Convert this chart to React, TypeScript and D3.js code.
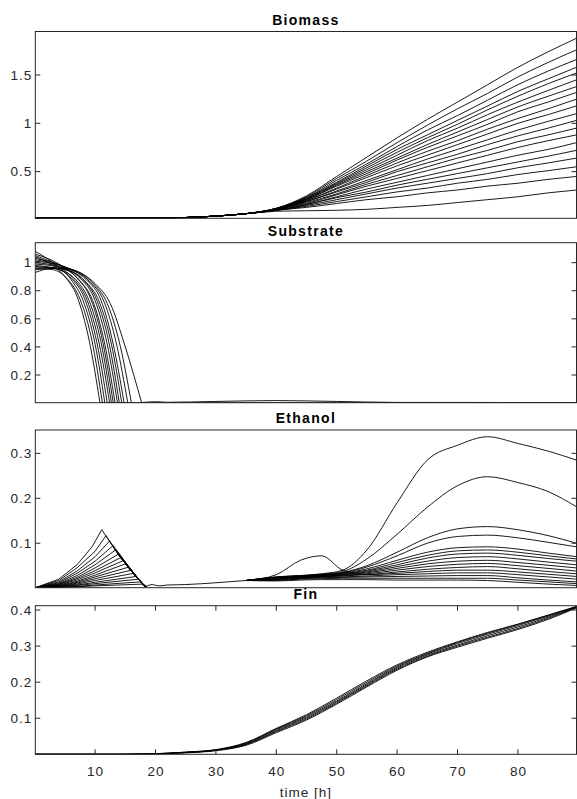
import { useEffect, useRef } from 'react'
import * as d3 from 'd3'

const W = 577
const H = 799
const X0 = 35.3
const X1 = 576.5
const FONT = "'Liberation Sans', Arial, Helvetica, sans-serif"
const AX = '#262626'

// time axis
const T_DOMAIN = [0.1, 89.7]
const X_TICKS = [10, 20, 30, 40, 50, 60, 70, 80]

// ---- Biomass ----
const BIOMASS_T = [0.1, 20, 25, 30, 35, 40, 45, 50, 55, 60, 65, 70, 75, 80, 85, 89.7]
const BIOMASS_EARLY = [0.018, 0.02, 0.025, 0.04, 0.065]
const BIOMASS_LATE = [
  [0.12, 0.25, 0.45, 0.65, 0.85, 1.04, 1.22, 1.40, 1.58, 1.74, 1.88],
  [0.12, 0.24, 0.43, 0.61, 0.80, 0.98, 1.15, 1.31, 1.48, 1.63, 1.76],
  [0.12, 0.23, 0.41, 0.58, 0.76, 0.93, 1.08, 1.24, 1.40, 1.54, 1.66],
  [0.12, 0.23, 0.39, 0.56, 0.73, 0.88, 1.03, 1.18, 1.33, 1.46, 1.58],
  [0.11, 0.22, 0.38, 0.54, 0.70, 0.85, 0.99, 1.14, 1.28, 1.41, 1.52],
  [0.11, 0.22, 0.37, 0.52, 0.67, 0.82, 0.95, 1.09, 1.22, 1.34, 1.45],
  [0.11, 0.21, 0.36, 0.50, 0.64, 0.78, 0.91, 1.04, 1.17, 1.28, 1.38],
  [0.11, 0.21, 0.35, 0.48, 0.62, 0.75, 0.87, 0.99, 1.12, 1.22, 1.32],
  [0.11, 0.20, 0.33, 0.46, 0.59, 0.71, 0.82, 0.94, 1.05, 1.15, 1.25],
  [0.11, 0.20, 0.32, 0.44, 0.56, 0.67, 0.78, 0.89, 1.00, 1.09, 1.18],
  [0.11, 0.19, 0.30, 0.41, 0.52, 0.63, 0.73, 0.83, 0.93, 1.02, 1.10],
  [0.11, 0.19, 0.29, 0.39, 0.50, 0.59, 0.68, 0.78, 0.87, 0.95, 1.03],
  [0.11, 0.18, 0.27, 0.37, 0.46, 0.55, 0.64, 0.72, 0.81, 0.88, 0.95],
  [0.11, 0.17, 0.26, 0.35, 0.43, 0.51, 0.59, 0.67, 0.75, 0.82, 0.88],
  [0.10, 0.16, 0.24, 0.32, 0.39, 0.46, 0.53, 0.60, 0.67, 0.73, 0.80],
  [0.10, 0.16, 0.23, 0.29, 0.36, 0.42, 0.48, 0.54, 0.60, 0.66, 0.72],
  [0.10, 0.15, 0.21, 0.27, 0.33, 0.38, 0.43, 0.48, 0.54, 0.59, 0.64],
  [0.10, 0.14, 0.19, 0.24, 0.29, 0.33, 0.38, 0.42, 0.47, 0.51, 0.55],
  [0.10, 0.13, 0.17, 0.21, 0.24, 0.28, 0.31, 0.35, 0.38, 0.42, 0.45],
  [0.09, 0.095, 0.10, 0.11, 0.13, 0.15, 0.18, 0.21, 0.24, 0.28, 0.31],
]

// ---- Substrate ----  decline phase of each run, then the flat tail
const SUBSTRATE_DECLINE = [
  [[0.1, 1.04], [3, 0.98], [5, 0.9], [7, 0.76], [9, 0.45], [10.8, 0.004]],
  [[0.1, 0.96], [3, 0.95], [5.5, 0.88], [7.5, 0.74], [9.5, 0.44], [11.2, 0.004]],
  [[0.1, 1.08], [3, 1.0], [6, 0.88], [8, 0.73], [10, 0.42], [11.6, 0.004]],
  [[0.1, 0.93], [3, 0.96], [6, 0.89], [8.3, 0.74], [10.3, 0.43], [12, 0.004]],
  [[0.1, 1.02], [4, 0.97], [6.5, 0.88], [8.7, 0.73], [10.7, 0.42], [12.4, 0.004]],
  [[0.1, 0.98], [4, 0.95], [7, 0.87], [9, 0.73], [11, 0.43], [12.7, 0.004]],
  [[0.1, 1.06], [4, 0.99], [7, 0.89], [9.3, 0.74], [11.3, 0.43], [13, 0.004]],
  [[0.1, 0.95], [4, 0.96], [7.5, 0.87], [9.6, 0.73], [11.6, 0.42], [13.3, 0.004]],
  [[0.1, 1.0], [4, 0.97], [7.5, 0.89], [10, 0.73], [12, 0.42], [13.7, 0.004]],
  [[0.1, 1.05], [5, 0.96], [8, 0.88], [10.3, 0.73], [12.3, 0.43], [14, 0.004]],
  [[0.1, 0.97], [5, 0.95], [8.3, 0.87], [10.7, 0.72], [12.7, 0.42], [14.4, 0.004]],
  [[0.1, 1.03], [5, 0.97], [8.5, 0.88], [11, 0.73], [13, 0.42], [14.8, 0.004]],
  [[0.1, 0.99], [5, 0.96], [9, 0.87], [11.5, 0.72], [13.6, 0.41], [15.4, 0.004]],
  [[0.1, 1.01], [5, 0.97], [9.5, 0.86], [12, 0.71], [14.2, 0.4], [16, 0.004]],
  [[0.1, 0.97], [5, 0.96], [10, 0.85], [12.5, 0.71], [15, 0.4], [17.7, 0.004]],
]
const SUBSTRATE_TAIL = [[10.8, 0.004], [89.7, 0.004]]
const SUBSTRATE_HUMP = [[17.7, 0.004], [20, 0.01], [22, 0.006], [30, 0.012], [40, 0.018], [50, 0.012], [60, 0.005], [89.7, 0.004]]

// ---- Ethanol ----  first peak (glucose phase)
const ETHANOL_EARLY = [
  [[0.1, 0.001], [4, 0.02], [7, 0.052], [9.5, 0.092], [11.1, 0.13], [14.1, 0.07], [16, 0.038], [18.3, 0.003]],
  [[0.1, 0.001], [4, 0.017], [7, 0.045], [10, 0.082], [11.8, 0.117], [14.1, 0.07], [16, 0.038], [18.3, 0.003]],
  [[0.1, 0.001], [4, 0.014], [7, 0.038], [10, 0.07], [12.4, 0.105], [14.1, 0.07], [16, 0.038], [18.3, 0.003]],
  [[0.1, 0.001], [4, 0.012], [7, 0.033], [10, 0.06], [13, 0.095], [14.6, 0.062], [16, 0.038], [18.3, 0.003]],
  [[0.1, 0.001], [4, 0.01], [7, 0.028], [10, 0.052], [13.5, 0.086], [15, 0.055], [16.5, 0.03], [18.3, 0.003]],
  [[0.1, 0.001], [4, 0.009], [7, 0.024], [10, 0.045], [14, 0.077], [15.5, 0.048], [17, 0.022], [18.3, 0.003]],
  [[0.1, 0.001], [4, 0.008], [7, 0.021], [10, 0.039], [14.4, 0.069], [16, 0.038], [18.3, 0.003]],
  [[0.1, 0.001], [4, 0.007], [7, 0.018], [10, 0.034], [14.8, 0.062], [16.3, 0.034], [18.3, 0.003]],
  [[0.1, 0.001], [4, 0.006], [7, 0.015], [10, 0.029], [15.2, 0.055], [16.6, 0.03], [18.3, 0.003]],
  [[0.1, 0.001], [4, 0.005], [7, 0.013], [10, 0.025], [15.6, 0.047], [17, 0.024], [18.3, 0.003]],
  [[0.1, 0.001], [4, 0.004], [7, 0.011], [10, 0.021], [16, 0.04], [17.2, 0.02], [18.3, 0.003]],
  [[0.1, 0.001], [4, 0.004], [7, 0.009], [10, 0.017], [16.4, 0.033], [17.5, 0.016], [18.3, 0.003]],
  [[0.1, 0.001], [4, 0.003], [7, 0.007], [10, 0.013], [16.8, 0.026], [18.3, 0.003]],
  [[0.1, 0.001], [4, 0.003], [7, 0.006], [10, 0.01], [17.2, 0.02], [18.3, 0.003]],
  [[0.1, 0.001], [4, 0.002], [7, 0.004], [10, 0.007], [17.6, 0.014], [18.5, 0.003]],
  [[0.1, 0.001], [4, 0.002], [7, 0.003], [10, 0.005], [17.9, 0.009], [18.6, 0.003]],
]
// slow build-up between the two phases
const ETHANOL_MID = [[18.3, 0.003], [19.5, 0.008], [20.5, 0.005], [22, 0.007], [25, 0.008], [30, 0.012], [35, 0.017], [40, 0.022]]
// second phase (ethanol produced on the feed)
const ETHANOL_LATE_T = [40, 44, 47.5, 51, 55, 60, 65, 70, 75, 80, 85, 89.7]
const ETHANOL_LATE = [
  [0.025, 0.028, 0.032, 0.04, 0.085, 0.19, 0.285, 0.318, 0.337, 0.322, 0.305, 0.285],
  [0.025, 0.028, 0.031, 0.037, 0.065, 0.12, 0.18, 0.228, 0.248, 0.235, 0.215, 0.181],
  [0.024, 0.027, 0.03, 0.035, 0.05, 0.08, 0.112, 0.132, 0.137, 0.13, 0.117, 0.1],
  [0.024, 0.027, 0.03, 0.034, 0.047, 0.072, 0.1, 0.115, 0.118, 0.112, 0.102, 0.092],
  [0.023, 0.026, 0.029, 0.033, 0.043, 0.062, 0.08, 0.09, 0.092, 0.087, 0.078, 0.07],
  [0.023, 0.026, 0.028, 0.032, 0.04, 0.057, 0.073, 0.083, 0.085, 0.08, 0.072, 0.065],
  [0.022, 0.025, 0.028, 0.031, 0.038, 0.052, 0.067, 0.076, 0.078, 0.073, 0.066, 0.06],
  [0.022, 0.025, 0.027, 0.03, 0.036, 0.048, 0.06, 0.068, 0.07, 0.065, 0.058, 0.052],
  [0.021, 0.024, 0.026, 0.029, 0.034, 0.044, 0.054, 0.06, 0.062, 0.057, 0.051, 0.045],
  [0.021, 0.024, 0.026, 0.028, 0.032, 0.04, 0.048, 0.053, 0.055, 0.05, 0.044, 0.038],
  [0.02, 0.023, 0.025, 0.027, 0.03, 0.036, 0.042, 0.046, 0.048, 0.043, 0.037, 0.032],
  [0.03, 0.062, 0.072, 0.04, 0.03, 0.033, 0.037, 0.04, 0.04, 0.036, 0.031, 0.026],
  [0.019, 0.022, 0.024, 0.025, 0.027, 0.03, 0.032, 0.034, 0.034, 0.03, 0.025, 0.02],
  [0.018, 0.021, 0.023, 0.024, 0.025, 0.026, 0.027, 0.028, 0.028, 0.023, 0.018, 0.014],
  [0.017, 0.02, 0.021, 0.022, 0.022, 0.022, 0.022, 0.022, 0.022, 0.018, 0.014, 0.01],
  [0.016, 0.018, 0.019, 0.019, 0.019, 0.018, 0.018, 0.018, 0.017, 0.013, 0.009, 0.006],
]

// ---- Fin ----
const FIN_T = [0.1, 15, 19, 22, 25, 30, 35, 40, 45, 50, 55, 60, 65, 70, 75, 80, 85, 89.7]
const FIN = [
  [0, 0, 0.001, 0.003, 0.006, 0.013, 0.033, 0.072, 0.11, 0.156, 0.204, 0.248, 0.283, 0.312, 0.338, 0.361, 0.386, 0.41],
  [0, 0, 0.001, 0.003, 0.006, 0.012, 0.031, 0.07, 0.107, 0.152, 0.2, 0.245, 0.28, 0.31, 0.336, 0.36, 0.385, 0.409],
  [0, 0, 0.001, 0.003, 0.005, 0.012, 0.03, 0.068, 0.104, 0.148, 0.196, 0.242, 0.278, 0.307, 0.333, 0.357, 0.383, 0.409],
  [0, 0, 0.001, 0.002, 0.005, 0.011, 0.028, 0.065, 0.101, 0.145, 0.193, 0.239, 0.275, 0.303, 0.329, 0.353, 0.38, 0.408],
  [0, 0, 0.001, 0.002, 0.005, 0.011, 0.027, 0.063, 0.098, 0.142, 0.19, 0.236, 0.272, 0.3, 0.325, 0.349, 0.377, 0.407],
  [0, 0, 0, 0.002, 0.004, 0.01, 0.025, 0.06, 0.095, 0.139, 0.187, 0.233, 0.27, 0.297, 0.322, 0.346, 0.374, 0.406],
]

const PANELS = [
  { key: 'bio', title: 'Biomass', top: 31.5, bottom: 218.3, y: [0.017, 1.95], ticks: [0.5, 1, 1.5], xticks: false },
  { key: 'sub', title: 'Substrate', top: 242.7, bottom: 402.7, y: [0.003, 1.142], ticks: [0.2, 0.4, 0.6, 0.8, 1], xticks: false },
  { key: 'eth', title: 'Ethanol', top: 430, bottom: 587.7, y: [0.001, 0.352], ticks: [0.1, 0.2, 0.3], xticks: false },
  { key: 'fin', title: 'Fin', top: 605.7, bottom: 754.3, y: [0, 0.412], ticks: [0.1, 0.2, 0.3, 0.4], xticks: true },
]

type Pt = [number, number]

export default function App() {
  const svgRef = useRef<SVGSVGElement>(null)

  useEffect(() => {
    if (!svgRef.current) return
    const svg = d3.select(svgRef.current)
    svg.selectAll('*').remove()

    const x = d3.scaleLinear().domain(T_DOMAIN).range([X0, X1])

    const series: Record<string, { pts: Pt[]; curve: any }[]> = {
      bio: BIOMASS_LATE.map(late => ({
        pts: BIOMASS_T.map((t, j) => [t, j < BIOMASS_EARLY.length ? BIOMASS_EARLY[j] : late[j - BIOMASS_EARLY.length]] as Pt),
        curve: d3.curveMonotoneX,
      })),
      sub: [
        ...SUBSTRATE_DECLINE.map(p => ({ pts: p as Pt[], curve: d3.curveMonotoneX })),
        { pts: SUBSTRATE_TAIL as Pt[], curve: d3.curveLinear },
        { pts: SUBSTRATE_HUMP as Pt[], curve: d3.curveMonotoneX },
      ],
      eth: [
        ...ETHANOL_EARLY.map(p => ({ pts: p as Pt[], curve: d3.curveLinear })),
        { pts: ETHANOL_MID as Pt[], curve: d3.curveMonotoneX },
        ...ETHANOL_LATE.map(v => ({
          pts: [[35, 0.017], ...ETHANOL_LATE_T.map((t, j) => [t, v[j]])] as Pt[],
          curve: d3.curveMonotoneX,
        })),
      ],
      fin: FIN.map(v => ({ pts: FIN_T.map((t, j) => [t, v[j]] as Pt), curve: d3.curveMonotoneX })),
    }

    const label = (sel: any, size: number) =>
      sel.attr('font-family', FONT).attr('font-size', size).attr('letter-spacing', 1).attr('fill', AX)

    PANELS.forEach(p => {
      const y = d3.scaleLinear().domain(p.y).range([p.bottom, p.top])
      const g = svg.append('g')

      const clipId = `clip-${p.key}`
      svg.append('clipPath').attr('id', clipId)
        .append('rect').attr('x', X0).attr('y', p.top).attr('width', X1 - X0).attr('height', p.bottom - p.top)

      const lines = g.append('g').attr('clip-path', `url(#${clipId})`)
      series[p.key].forEach(s => {
        const line = d3.line<Pt>().x(d => x(d[0])).y(d => y(d[1])).curve(s.curve)
        lines.append('path').attr('d', line(s.pts))
          .attr('fill', 'none').attr('stroke', '#000').attr('stroke-width', 0.9)
          .attr('stroke-linejoin', 'round')
      })

      // box
      g.append('rect').attr('x', X0).attr('y', p.top).attr('width', X1 - X0).attr('height', p.bottom - p.top)
        .attr('fill', 'none').attr('stroke', AX).attr('stroke-width', 1)

      // y ticks, mirrored on the right
      p.ticks.forEach(t => {
        const yy = y(t)
        g.append('line').attr('x1', X0).attr('x2', X0 + 5).attr('y1', yy).attr('y2', yy).attr('stroke', AX)
        g.append('line').attr('x1', X1).attr('x2', X1 - 5).attr('y1', yy).attr('y2', yy).attr('stroke', AX)
        label(g.append('text'), 13.5).attr('x', X0 - 3).attr('y', yy).attr('dy', '0.35em')
          .attr('text-anchor', 'end').text(String(t))
      })

      if (p.xticks) {
        X_TICKS.forEach(t => {
          const xx = x(t)
          g.append('line').attr('x1', xx).attr('x2', xx).attr('y1', p.bottom).attr('y2', p.bottom - 5).attr('stroke', AX)
          g.append('line').attr('x1', xx).attr('x2', xx).attr('y1', p.top).attr('y2', p.top + 5).attr('stroke', AX)
          label(g.append('text'), 13.5).attr('x', xx + 0.5).attr('y', p.bottom + 21.5)
            .attr('text-anchor', 'middle').text(String(t))
        })
        label(g.append('text'), 13.5).attr('x', (X0 + X1) / 2).attr('y', p.bottom + 42.5)
          .attr('text-anchor', 'middle').text('time [h]')
      }

      g.append('text').attr('x', (X0 + X1) / 2).attr('y', p.top - 7)
        .attr('text-anchor', 'middle').attr('font-family', FONT).attr('font-size', 14)
        .attr('letter-spacing', 1.3).attr('font-weight', 'bold').attr('fill', '#000')
        .text(p.title)
    })
  }, [])

  return (
    <div style={{ position: 'absolute', left: 0, top: 0, background: '#fff' }}>
      <svg ref={svgRef} width={W} height={H} style={{ display: 'block' }} />
    </div>
  )
}
